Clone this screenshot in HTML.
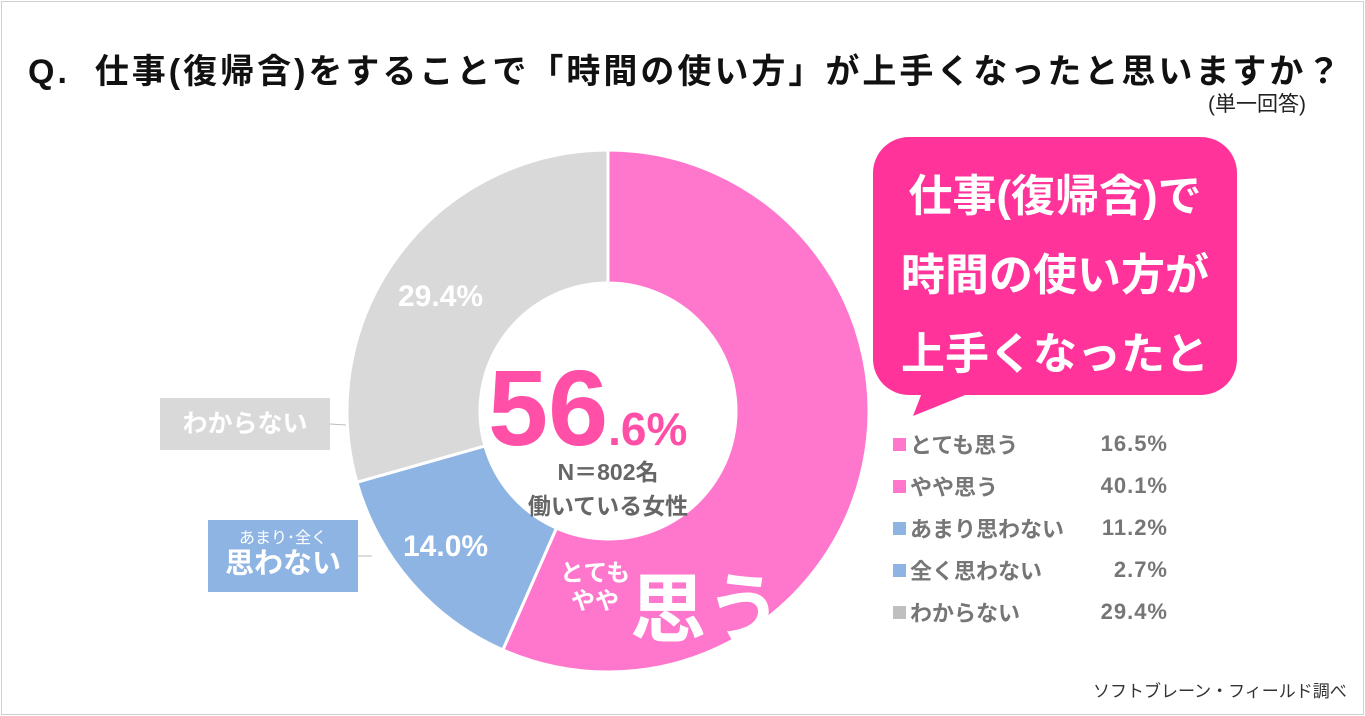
<!DOCTYPE html>
<html><head><meta charset="utf-8"><style>
body{margin:0;width:1365px;height:716px;overflow:hidden;background:#fff;font-family:"Liberation Sans","Noto Sans CJK JP",sans-serif;}
.frame{position:absolute;left:1px;top:1px;width:1361px;height:712px;border:1px solid #d0d0d0;}
.t{position:absolute;white-space:nowrap;}
</style></head><body>
<div class="frame"></div>
<div class="t" style="left:28px;top:44px;font-size:34px;letter-spacing:3px;font-weight:bold;color:#111;">Q.&nbsp; 仕事(復帰含)をすることで「時間の使い方」が上手くなったと思いますか？</div>
<div class="t" style="left:1208px;top:88px;font-size:21px;color:#222;">(単一回答)</div>
<svg width="1365" height="716" style="position:absolute;left:0;top:0">
<g id="slices"></g>
<polygon points="925,385 990,385 913,416" fill="#FF3399"/>
<rect x="873" y="137" width="364" height="258" rx="36" fill="#FF3399"/>
<line x1="330" y1="424" x2="346" y2="425" stroke="#bbb"/>
<line x1="358" y1="556" x2="372" y2="556" stroke="#bbb"/>
</svg>
<div class="t" style="left:873px;top:157px;width:364px;text-align:center;font-size:44px;font-weight:bold;color:#fff;line-height:79px;white-space:normal;">仕事(復帰含)で<br>時間の使い方が<br>上手くなったと</div>
<div class="t" style="left:160px;top:398px;width:170px;height:52px;background:#d9d9d9;color:#fff;font-size:25px;font-weight:bold;text-align:center;line-height:52px;">わからない</div>
<div class="t" style="left:208px;top:520px;width:150px;height:72px;background:#8eb4e3;color:#fff;text-align:center;">
<div style="font-size:16px;margin-top:4px;">あまり･全く</div><div style="font-size:29px;font-weight:bold;line-height:32px;">思わない</div></div>
<div class="t" style="left:398px;top:280px;font-size:30px;font-weight:bold;color:#fff;">29.4%</div>
<div class="t" style="left:403px;top:530px;font-size:30px;font-weight:bold;color:#fff;">14.0%</div>
<div class="t" style="left:560px;top:560px;font-size:24px;font-weight:bold;color:#fff;line-height:28px;text-align:center;">とても<br>やや</div>
<div class="t" style="left:630px;top:548px;font-size:76px;font-weight:bold;color:#fff;">思う</div>
<div class="t" style="left:488px;top:345px;color:#FF4FA7;font-weight:bold;"><span style="font-size:108px;">56</span><span style="font-size:46px;">.6%</span></div>
<div class="t" style="left:608px;top:455px;transform:translateX(-50%);font-size:23px;font-weight:bold;color:#666;text-align:center;line-height:34px;">N＝802名<br>働いている女性</div>
<div id="legend"></div>
<div class="t" style="left:1093px;top:677px;font-size:17px;color:#333;">ソフトブレーン・フィールド調べ</div>
<script>
const groups=["思う","思わない","わからない"];
const groupValues=[56.6,14.0,29.4];
const groupColors=["#FF77CC","#8EB4E3","#D9D9D9"];
const legendLabels=["とても思う","やや思う","あまり思わない","全く思わない","わからない"];
const legendValues=[16.5,40.1,11.2,2.7,29.4];
const legendColors=["#FF77CC","#FF77CC","#8EB4E3","#8EB4E3","#BFBFBF"];
const cx=608,cy=411,R=261,r=128;
const total=groupValues.reduce((a,b)=>a+b,0);
function pt(a,rad){return [cx+rad*Math.sin(a),cy-rad*Math.cos(a)];}
let a0=0;const g=document.getElementById('slices');
groupValues.forEach((v,i)=>{
 const a1=a0+v/total*2*Math.PI;const big=(a1-a0)>Math.PI?1:0;
 const [x0,y0]=pt(a0,R),[x1,y1]=pt(a1,R),[x2,y2]=pt(a1,r),[x3,y3]=pt(a0,r);
 const p=document.createElementNS('http://www.w3.org/2000/svg','path');
 p.setAttribute('d',`M${x0},${y0}A${R},${R} 0 ${big} 1 ${x1},${y1}L${x2},${y2}A${r},${r} 0 ${big} 0 ${x3},${y3}Z`);
 p.setAttribute('fill',groupColors[i]);p.setAttribute('stroke','#fff');p.setAttribute('stroke-width','3');
 
 
 g.appendChild(p);a0=a1;
});
const lg=document.getElementById('legend');
legendLabels.forEach((l,i)=>{
 const y=428+i*42;
 const d=document.createElement('div');d.className='t';
 d.style.cssText=`left:893px;top:${y}px;font-size:22px;font-weight:bold;color:#767676;width:275px;display:flex;align-items:center;`;
 
 
 d.innerHTML=`<span style="display:inline-block;width:13px;height:13px;background:${legendColors[i]};margin-right:4px;"></span><span>${l}</span><span style="margin-left:auto;letter-spacing:1px;">${legendValues[i].toFixed(1)}%</span>`;
 lg.appendChild(d);
});
</script>
</body></html>
